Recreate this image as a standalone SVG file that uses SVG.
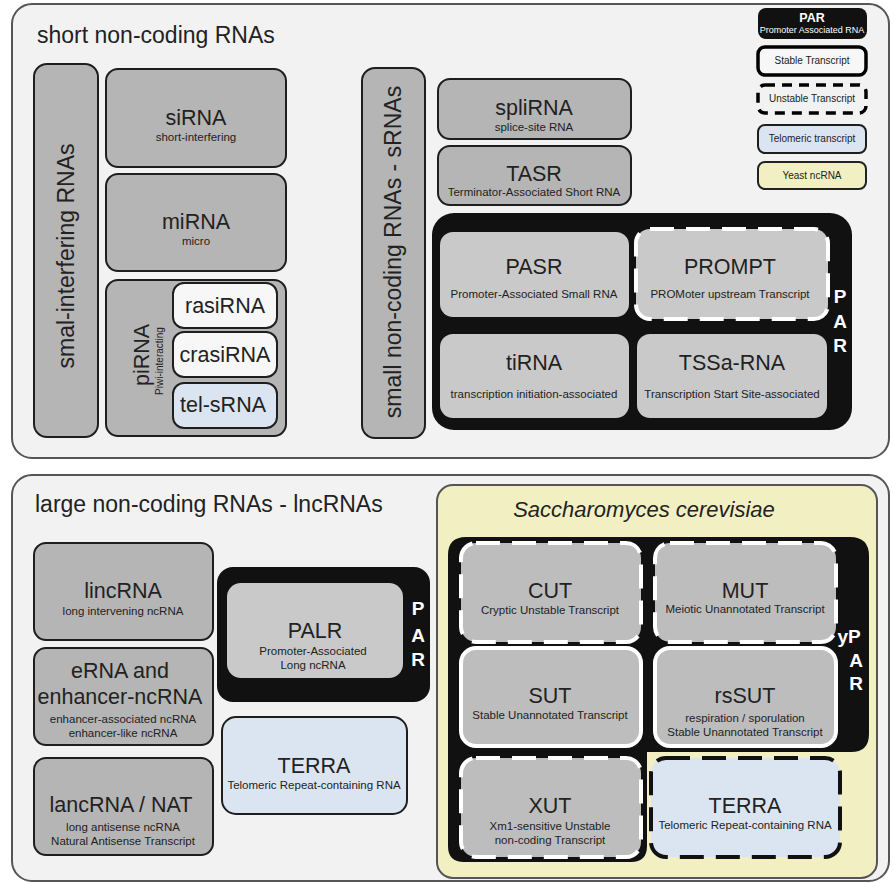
<svg xmlns="http://www.w3.org/2000/svg" width="893" height="883" viewBox="0 0 893 883">
<style>
text{font-family:"Liberation Sans",Arial,sans-serif;fill:#222;text-anchor:middle}
.panel{fill:#f2f2f2;stroke:#555;stroke-width:2}
.g{fill:#b5b5b5;stroke:#1e1e1e;stroke-width:2}
.gl{fill:#c9c9c9}
.gy{fill:#bdbdbd}
.blk{fill:#111}
.white{fill:#f7f7f7;stroke:#1e1e1e;stroke-width:2}
.tel{fill:#dbe5f1;stroke:#1e1e1e;stroke-width:2}
.yeast{fill:#f2f0c3;stroke:#555;stroke-width:2}
.wd{stroke:#fff;stroke-width:4;stroke-dasharray:24 12}
.ws{stroke:#fff;stroke-width:4}
.h{font-size:23px}
.t{font-size:21.5px}
.s{font-size:11.5px}
.pl{font-size:19px;font-weight:bold;fill:#fff}
</style>

<g id="panel-short">
<rect class="panel" x="12" y="4" width="877" height="454" rx="20"/>
<text class="h" x="37" y="43" style="text-anchor:start">short non-coding RNAs</text>
</g>

<g id="smal-interfering">
<rect class="g" x="34" y="64" width="64" height="373" rx="13"/>
<text class="h" transform="translate(74 256) rotate(-90)">smal-interfering RNAs</text>
</g>
<g id="siRNA">
<rect class="g" x="106" y="69" width="180" height="98" rx="12"/>
<text class="t" x="196" y="125">siRNA</text>
<text class="s" x="196" y="141">short-interfering</text>
</g>
<g id="miRNA">
<rect class="g" x="106" y="174" width="180" height="97" rx="12"/>
<text class="t" x="196" y="229">miRNA</text>
<text class="s" x="196" y="245">micro</text>
</g>
<g id="piRNA">
<rect class="g" x="106" y="280" width="180" height="156" rx="12"/>
<text class="t" transform="translate(149 355) rotate(-90)">piRNA</text>
<text transform="translate(163 361) rotate(-90)" style="font-size:10px">Piwi-interacting</text>
</g>
<g id="rasiRNA">
<rect class="white" x="173" y="283" width="104" height="45" rx="11"/>
<text class="t" x="225" y="313">rasiRNA</text>
</g>
<g id="crasiRNA">
<rect class="white" x="173" y="332" width="104" height="45" rx="11"/>
<text class="t" x="225" y="362">crasiRNA</text>
</g>
<g id="tel-sRNA">
<rect class="tel" x="173" y="383" width="104" height="45" rx="11"/>
<text class="t" x="223" y="412">tel-sRNA</text>
</g>

<g id="small-noncoding">
<rect class="g" x="362" y="68" width="63" height="370" rx="13"/>
<text class="h" transform="translate(401 252) rotate(-90)">small non-coding RNAs - sRNAs</text>
</g>
<g id="spliRNA">
<rect class="g" x="438" y="79" width="193" height="60" rx="12"/>
<text class="t" x="534" y="115">spliRNA</text>
<text class="s" x="534" y="131">splice-site RNA</text>
</g>
<g id="TASR">
<rect class="g" x="438" y="146" width="193" height="59" rx="12"/>
<text class="t" x="534" y="181">TASR</text>
<text class="s" x="534" y="196">Terminator-Associated Short RNA</text>
</g>

<g id="PAR-block">
<rect class="blk" x="432" y="213" width="420" height="217" rx="22"/>
<text class="pl" x="840" y="303">P</text>
<text class="pl" x="840" y="328">A</text>
<text class="pl" x="840" y="352">R</text>
</g>
<g id="PASR">
<rect class="gl" x="440" y="232" width="189" height="85" rx="13"/>
<text class="t" x="534" y="274">PASR</text>
<text class="s" x="534" y="298">Promoter-Associated Small RNA</text>
</g>
<g id="PROMPT">
<rect class="gl wd" x="636" y="229" width="192" height="90" rx="14"/>
<text class="t" x="730" y="274">PROMPT</text>
<text class="s" x="730" y="298">PROMoter upstream Transcript</text>
</g>
<g id="tiRNA">
<rect class="gl" x="440" y="334" width="189" height="84" rx="13"/>
<text class="t" x="534" y="370">tiRNA</text>
<text class="s" x="534" y="398">transcription initiation-associated</text>
</g>
<g id="TSSa-RNA">
<rect class="gl" x="637" y="334" width="190" height="84" rx="13"/>
<text class="t" x="732" y="370">TSSa-RNA</text>
<text class="s" x="732" y="398">Transcription Start Site-associated</text>
</g>

<g id="legend-PAR">
<rect class="blk" x="758" y="8" width="109" height="31" rx="8"/>
<text x="812" y="22" style="font-size:12.5px;font-weight:bold;fill:#fff">PAR</text>
<text x="812" y="33" style="font-size:9px;fill:#fff">Promoter Associated RNA</text>
</g>
<g id="legend-stable">
<rect x="758" y="47" width="108" height="28" rx="7" style="fill:#f7f7f7;stroke:#000;stroke-width:3.5"/>
<text x="812" y="64" style="font-size:10px">Stable Transcript</text>
</g>
<g id="legend-unstable">
<rect x="758" y="85" width="108" height="28" rx="7" style="fill:#f2f2f2;stroke:#000;stroke-width:3.5;stroke-dasharray:10 7"/>
<text x="812" y="102" style="font-size:10px">Unstable Transcript</text>
</g>
<g id="legend-telomeric">
<rect class="tel" x="758" y="125" width="108" height="28" rx="7"/>
<text x="812" y="142" style="font-size:10px">Telomeric transcript</text>
</g>
<g id="legend-yeast">
<rect class="yeast" x="758" y="162" width="108" height="27" rx="7" style="stroke:#222"/>
<text x="812" y="179" style="font-size:10px">Yeast ncRNA</text>
</g>

<g id="panel-large">
<rect class="panel" x="12" y="475" width="877" height="406" rx="20"/>
<text class="h" x="35" y="512" style="text-anchor:start">large non-coding RNAs - lncRNAs</text>
</g>
<g id="lincRNA">
<rect class="g" x="34" y="543" width="179" height="97" rx="12"/>
<text class="t" x="123" y="598">lincRNA</text>
<text class="s" x="123" y="615">long intervening ncRNA</text>
</g>
<g id="eRNA">
<rect class="g" x="34" y="648" width="179" height="97" rx="12"/>
<text class="t" x="120" y="678">eRNA and</text>
<text class="t" x="120" y="704">enhancer-ncRNA</text>
<text class="s" x="123" y="723">enhancer-associated ncRNA</text>
<text class="s" x="123" y="737">enhancer-like ncRNA</text>
</g>
<g id="lancRNA">
<rect class="g" x="34" y="758" width="179" height="97" rx="12"/>
<text class="t" x="121" y="812">lancRNA / NAT</text>
<text class="s" x="123" y="831">long antisense ncRNA</text>
<text class="s" x="123" y="845">Natural Antisense Transcript</text>
</g>
<g id="PAR-block-2">
<rect class="blk" x="217" y="567" width="213" height="135" rx="16"/>
<text class="pl" x="418" y="615">P</text>
<text class="pl" x="418" y="642">A</text>
<text class="pl" x="418" y="666">R</text>
</g>
<g id="PALR">
<rect class="gl" x="227" y="583" width="176" height="95" rx="14"/>
<text class="t" x="315" y="638">PALR</text>
<text class="s" x="313" y="655">Promoter-Associated</text>
<text class="s" x="313" y="669">Long ncRNA</text>
</g>
<g id="TERRA">
<rect class="tel" x="222" y="717" width="185" height="97" rx="14"/>
<text class="t" x="314" y="773">TERRA</text>
<text class="s" x="314" y="789">Telomeric Repeat-containing RNA</text>
</g>

<g id="panel-yeast">
<rect class="yeast" x="437" y="485" width="440" height="393" rx="16"/>
<text x="644" y="517" style="font-size:22px;font-style:italic">Saccharomyces cerevisiae</text>
</g>
<g id="yPAR-block">
<path class="blk" d="M466 537 H850 Q869 537 869 556 V734 Q869 752 851 752 H647 V846 Q647 862 631 862 H464 Q448 862 448 846 V555 Q448 537 466 537 Z"/>
<text class="pl" x="849" y="643">yP</text>
<text class="pl" x="856" y="667">A</text>
<text class="pl" x="856" y="690">R</text>
</g>
<g id="CUT">
<rect class="gy wd" x="461" y="543" width="180" height="99" rx="15"/>
<text class="t" x="550" y="598">CUT</text>
<text class="s" x="550" y="614">Cryptic Unstable Transcript</text>
</g>
<g id="MUT">
<rect class="gy wd" x="655" y="543" width="181" height="99" rx="15"/>
<text class="t" x="745" y="598">MUT</text>
<text class="s" x="745" y="613">Meiotic Unannotated Transcript</text>
</g>
<g id="SUT">
<rect class="gy ws" x="461" y="648" width="180" height="98" rx="15"/>
<text class="t" x="550" y="703">SUT</text>
<text class="s" x="550" y="719">Stable Unannotated Transcript</text>
</g>
<g id="rsSUT">
<rect class="gy ws" x="655" y="648" width="181" height="98" rx="15"/>
<text class="t" x="745" y="703">rsSUT</text>
<text class="s" x="745" y="722">respiration / sporulation</text>
<text class="s" x="745" y="736">Stable Unannotated Transcript</text>
</g>
<g id="XUT">
<rect class="gy wd" x="461" y="758" width="180" height="99" rx="15"/>
<text class="t" x="550" y="813">XUT</text>
<text class="s" x="550" y="830">Xm1-sensitive Unstable</text>
<text class="s" x="550" y="844">non-coding Transcript</text>
</g>
<g id="TERRA-yeast">
<rect x="651" y="758" width="189" height="99" rx="15" style="fill:#dbe5f1;stroke:#111;stroke-width:4;stroke-dasharray:24 12"/>
<text class="t" x="745" y="813">TERRA</text>
<text class="s" x="745" y="829">Telomeric Repeat-containing RNA</text>
</g>
<g id="connectors"></g>
</svg>
